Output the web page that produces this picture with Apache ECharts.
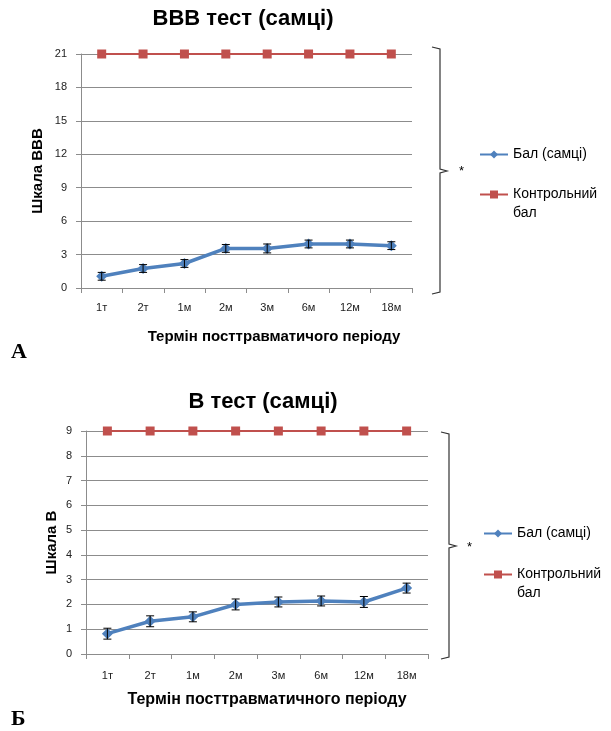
<!DOCTYPE html>
<html>
<head>
<meta charset="utf-8">
<script src="https://cdn.jsdelivr.net/npm/echarts@6/dist/echarts.min.js"></script>
<style>
  html, body { margin: 0; padding: 0; background: #fff; }
  #chart { width: 611px; height: 731px; }
</style>
</head>
<body>
<div id="chart"></div>
<script>
// періоди після травми
const periods = ['1т', '2т', '1м', '2м', '3м', '6м', '12м', '18м']

// A: BBB тест
const bbbScore = [1.05, 1.75, 2.2, 3.55, 3.55, 3.95, 3.95, 3.8]
const bbbErr = [0.35, 0.35, 0.35, 0.35, 0.4, 0.35, 0.35, 0.35]
const bbbControl = [21, 21, 21, 21, 21, 21, 21, 21]

// Б: B тест
const bScore = [0.82, 1.32, 1.5, 2.0, 2.1, 2.14, 2.1, 2.66]
const bErr = [0.22, 0.22, 0.2, 0.22, 0.2, 0.2, 0.22, 0.2]
const bControl = [9, 9, 9, 9, 9, 9, 9, 9]

const BLUE = '#4F81BD'
const RED = '#C0504D'
const GRID_LINE = '#8c8c8c'
const FONT = 'Liberation Sans, Arial, sans-serif'

const chart = echarts.init(document.getElementById('chart'))

const axisLabel = { color: '#222', fontSize: 11, fontFamily: FONT }

function xAxisCfg(gridIndex, margin) {
  return {
    type: 'category',
    gridIndex,
    data: periods,
    boundaryGap: true,
    axisLine: { lineStyle: { color: GRID_LINE } },
    axisTick: { show: true, alignWithLabel: false, length: 5, lineStyle: { color: GRID_LINE } },
    axisLabel: { ...axisLabel, margin },
    splitLine: { show: false },
  }
}

function yAxisCfg(gridIndex, max, interval, name, nameGap) {
  return {
    type: 'value',
    gridIndex,
    min: 0,
    max,
    interval,
    name,
    nameLocation: 'middle',
    nameGap,
    nameMoveOverlap: false,
    nameTextStyle: { color: '#000', fontSize: 15, fontWeight: 'bold', fontFamily: FONT },
    axisLine: { show: true, lineStyle: { color: GRID_LINE } },
    axisTick: { show: true, length: 5, lineStyle: { color: GRID_LINE } },
    axisLabel: { ...axisLabel, margin: 14 },
    splitLine: { lineStyle: { color: GRID_LINE, width: 1 } },
  }
}

function errorBars(idx, values, errs) {
  return {
    type: 'custom',
    xAxisIndex: idx,
    yAxisIndex: idx,
    silent: true,
    z: 5,
    data: values.map((v, i) => [i, v - errs[i], v + errs[i]]),
    renderItem(params, api) {
      const lo = api.coord([api.value(0), api.value(1)])
      const hi = api.coord([api.value(0), api.value(2)])
      const w = 4
      const style = { stroke: '#000', lineWidth: 1 }
      return {
        type: 'group',
        children: [
          { type: 'line', shape: { x1: lo[0], y1: lo[1], x2: hi[0], y2: hi[1] }, style },
          { type: 'line', shape: { x1: lo[0] - w, y1: lo[1], x2: lo[0] + w, y2: lo[1] }, style },
          { type: 'line', shape: { x1: hi[0] - w, y1: hi[1], x2: hi[0] + w, y2: hi[1] }, style },
        ],
      }
    },
  }
}

function scoreSeries(idx, values) {
  return {
    name: 'Бал (самці)',
    type: 'line',
    xAxisIndex: idx,
    yAxisIndex: idx,
    data: values,
    symbol: 'diamond',
    symbolSize: 11,
    lineStyle: { color: BLUE, width: 3.5 },
    itemStyle: { color: BLUE },
    z: 4,
  }
}

function controlSeries(idx, values) {
  return {
    name: 'Контрольний\nбал',
    type: 'line',
    xAxisIndex: idx,
    yAxisIndex: idx,
    data: values,
    symbol: 'rect',
    symbolSize: 9,
    lineStyle: { color: RED, width: 2 },
    itemStyle: { color: RED },
    z: 4,
  }
}

// перший рядок тексту на рівні значка: порожній рядок зверху
function legendCfg(left, top, gap) {
  return {
    orient: 'vertical',
    left,
    top,
    itemWidth: 28,
    itemHeight: 10,
    itemGap: gap,
    formatter: (name) => (name.indexOf('\n') >= 0 ? ' \n' + name : name),
    textStyle: { color: '#000', fontSize: 14, fontFamily: FONT, lineHeight: 19 },
    data: ['Бал (самці)', 'Контрольний\nбал'],
  }
}

function bracket(x, top, mid, bottom) {
  return [
    {
      type: 'polyline',
      shape: { points: [[x - 8, top], [x, top + 2], [x, mid - 2], [x + 7, mid], [x, mid + 2], [x, bottom - 2], [x - 8, bottom]] },
      style: { stroke: '#333', lineWidth: 1.2, fill: null },
    },
  ]
}

const titleStyle = { color: '#000', fontSize: 22, fontWeight: 'bold', fontFamily: FONT }
const panelStyle = { color: '#000', fontSize: 22, fontWeight: 'bold', fontFamily: 'Liberation Serif, Times New Roman, serif' }

chart.setOption({
  backgroundColor: '#fff',
  animation: false,
  title: [
    { text: 'BBB тест (самці)', left: 238, top: 3, textAlign: 'center', textStyle: titleStyle },
    { text: 'Термін посттравматичого періоду', left: 269, top: 324, textAlign: 'center',
      textStyle: { color: '#000', fontSize: 15, fontWeight: 'bold', fontFamily: FONT } },
    { text: 'А', left: 6, top: 336, textStyle: panelStyle },
    { text: 'B тест (самці)', left: 258, top: 386, textAlign: 'center', textStyle: titleStyle },
    { text: 'Термін посттравматичного періоду', left: 262, top: 687, textAlign: 'center',
      textStyle: { color: '#000', fontSize: 16, fontWeight: 'bold', fontFamily: FONT } },
    { text: 'Б', left: 6, top: 703, textStyle: panelStyle },
  ],
  legend: [legendCfg(474, 140, 2), legendCfg(478, 519, 3)],
  grid: [
    { left: 81, top: 54, width: 331, height: 234 },
    { left: 86, top: 431, width: 342, height: 223 },
  ],
  xAxis: [xAxisCfg(0, 14), xAxisCfg(1, 16)],
  yAxis: [yAxisCfg(0, 21, 3, 'Шкала BBB', 36), yAxisCfg(1, 9, 1, 'Шкала B', 27)],
  series: [
    controlSeries(0, bbbControl),
    scoreSeries(0, bbbScore),
    errorBars(0, bbbScore, bbbErr),
    controlSeries(1, bControl),
    scoreSeries(1, bScore),
    errorBars(1, bScore, bErr),
  ],
  graphic: [
    ...bracket(440, 47, 171, 294),
    { type: 'text', left: 459, top: 165, style: { text: '*', fill: '#000', font: '13px ' + FONT } },
    ...bracket(449, 432, 546, 659),
    { type: 'text', left: 467, top: 541, style: { text: '*', fill: '#000', font: '13px ' + FONT } },
  ],
})
</script>
</body>
</html>
